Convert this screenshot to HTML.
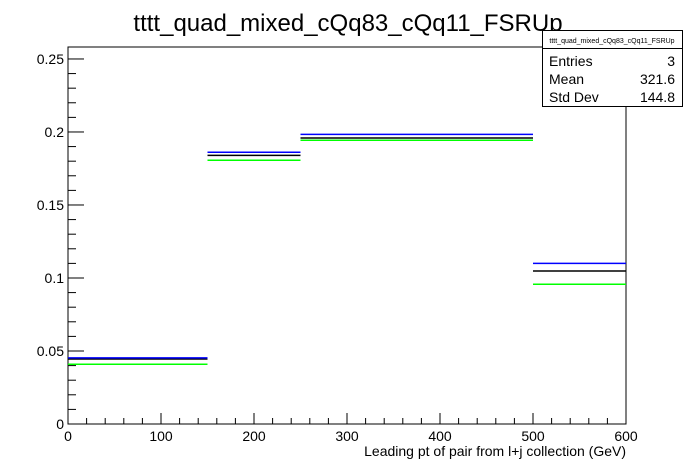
<!DOCTYPE html>
<html><head><meta charset="utf-8"><style>
body{margin:0;background:#fff;}
svg{display:block;font-family:"Liberation Sans",sans-serif;}
</style></head><body>
<svg id="chart" width="696" height="472">
<text x="348" y="31" text-anchor="middle" font-size="24">tttt_quad_mixed_cQq83_cQq11_FSRUp</text>
<rect x="68" y="47" width="558" height="377" fill="none" stroke="#000" stroke-width="1"/>
<g id="axes"></g>
<g id="series"></g>
<text x="626" y="456" text-anchor="end" font-size="14">Leading pt of pair from l+j collection (GeV)</text>
<g>
<rect x="542.5" y="30.5" width="140" height="76" fill="#fff" stroke="#000"/>
<line x1="542.5" y1="48.5" x2="682.5" y2="48.5" stroke="#000"/>
<text x="612" y="43" text-anchor="middle" font-size="7">tttt_quad_mixed_cQq83_cQq11_FSRUp</text>
<text x="549" y="66" font-size="14">Entries</text><text x="675" y="66" font-size="14" text-anchor="end">3</text>
<text x="549" y="84" font-size="14">Mean</text><text x="675" y="84" font-size="14" text-anchor="end">321.6</text>
<text x="549" y="102" font-size="14">Std Dev</text><text x="675" y="102" font-size="14" text-anchor="end">144.8</text>
</g>
</svg>
<script>
const binEdges=[0,150,250,500,600];
const blackVals=[0.0445,0.184,0.1959,0.1048];
const blueVals=[0.0453,0.1861,0.1984,0.110];
const greenVals=[0.0409,0.1806,0.1943,0.0957];
const xTicks=[0,100,200,300,400,500,600];
const yTicks=[0,0.05,0.1,0.15,0.2,0.25];
const yTickLabels=["0","0.05","0.1","0.15","0.2","0.25"];
const X0=68,X1=626,Y0=424,YT=47,XMAX=600,YMAX=0.2582;
const xs=v=>X0+v/XMAX*(X1-X0);
const ys=v=>Y0-v/YMAX*(Y0-YT);
const NS="http://www.w3.org/2000/svg";
function mk(tag,attrs,parent){const e=document.createElementNS(NS,tag);for(const k in attrs)e.setAttribute(k,attrs[k]);parent.appendChild(e);return e;}
const ax=document.getElementById('axes');
xTicks.forEach((t,i)=>{
  const l=mk('line',{x1:xs(t),x2:xs(t),y1:Y0,y2:Y0-11,stroke:'#000'},ax);
  
  
  const tx=mk('text',{x:xs(t),y:Y0+17,'text-anchor':'middle','font-size':14},ax);
  tx.textContent=t;
  
  
});
for(let v=0;v<=XMAX;v+=20){if(v%100===0)continue;
  const l=mk('line',{x1:xs(v),x2:xs(v),y1:Y0,y2:Y0-6,stroke:'#000'},ax);
  
  }
yTicks.forEach((t,i)=>{
  const l=mk('line',{x1:X0,x2:X0+16,y1:ys(t),y2:ys(t),stroke:'#000'},ax);
  
  
  const tx=mk('text',{x:X0-4,y:ys(t)+5,'text-anchor':'end','font-size':14},ax);
  tx.textContent=yTickLabels[i];
  
  
});
for(let k=1;k*0.01<YMAX;k++){if(k%5===0)continue;const v=k*0.01;
  const l=mk('line',{x1:X0,x2:X0+8,y1:ys(v),y2:ys(v),stroke:'#000'},ax);
  
  }
const sg=document.getElementById('series');
[[blackVals,'#000','black'],[blueVals,'#00f','blue'],[greenVals,'#0f0','green']].forEach(([vals,col,nm])=>{
  vals.forEach((v,i)=>{
    const l=mk('line',{x1:xs(binEdges[i]),x2:xs(binEdges[i+1]),y1:ys(v),y2:ys(v),stroke:col,'stroke-width':1.5},sg);
    
    
  });
});
</script>
</body></html>
